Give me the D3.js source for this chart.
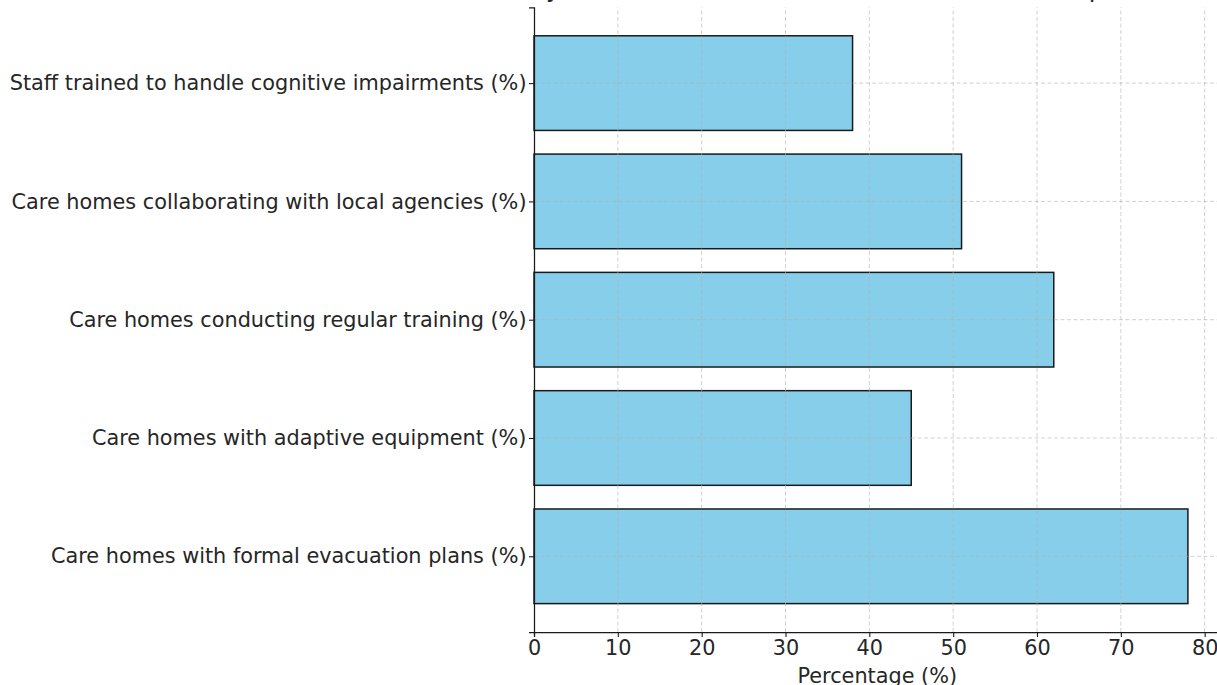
<!DOCTYPE html>
<html>
<head>
<meta charset="utf-8">
<script src="https://cdn.jsdelivr.net/npm/d3@7"></script>
<style>
  html, body { margin: 0; padding: 0; background: #fff; }
  svg { display: block; font-family: "DejaVu Sans", sans-serif; }
</style>
</head>
<body>
<svg id="chart" width="1217" height="685"></svg>
<script>
// Care-home preparedness indicators, listed bottom to top
const categories = [
  "Care homes with formal evacuation plans (%)",
  "Care homes with adaptive equipment (%)",
  "Care homes conducting regular training (%)",
  "Care homes collaborating with local agencies (%)",
  "Staff trained to handle cognitive impairments (%)"
];
const values = [78, 45, 62, 51, 38];
const xTicks = [0, 10, 20, 30, 40, 50, 60, 70, 80];
const chartTitle = "Safety Readiness of Care Homes for Elders: A Snapshot";
const xLabel = "Percentage (%)";

const svg = d3.select("#chart");
const margin = { left: 534, right: -3.6, top: 7.4, bottom: 53 };
const W = 1217, H = 685;

const xMax = d3.max(values) * 1.05;
const x = d3.scaleLinear().domain([0, xMax]).range([margin.left, W - margin.right]);
const y = d3.scaleLinear().domain([-0.64, categories.length - 1 + 0.64]).range([H - margin.bottom, margin.top]);

const textColor = "#262626";
const fontSize = 20.8;

// bars
svg.append("g").selectAll("rect")
  .data(values)
  .join("rect")
  .attr("x", x(0))
  .attr("y", (d, i) => y(i + 0.4))
  .attr("width", d => x(d) - x(0))
  .attr("height", (d, i) => y(i - 0.4) - y(i + 0.4))
  .attr("fill", "#87CEEB")
  .attr("stroke", "#1a1a1a")
  .attr("stroke-width", 1.5);

// dashed grid drawn above the bars
const grid = svg.append("g")
  .attr("stroke", "#b0b0b0")
  .attr("stroke-opacity", 0.65)
  .attr("stroke-width", 0.9)
  .attr("stroke-dasharray", "4,2.5");
grid.selectAll("line.v")
  .data(xTicks.filter(t => t > 0))
  .join("line")
  .attr("class", "v")
  .attr("x1", d => x(d)).attr("x2", d => x(d))
  .attr("y1", y.range()[0]).attr("y2", y.range()[1]);
grid.selectAll("line.h")
  .data(categories)
  .join("line")
  .attr("class", "h")
  .attr("x1", x(0)).attr("x2", x(xMax))
  .attr("y1", (d, i) => y(i)).attr("y2", (d, i) => y(i));

// x axis
const xAxis = svg.append("g")
  .attr("transform", `translate(0,${y.range()[0]})`)
  .call(d3.axisBottom(x).tickValues(xTicks).tickFormat(d3.format("d")).tickSize(5).tickPadding(3));
xAxis.select(".domain").attr("stroke", "#1a1a1a").attr("stroke-width", 1.25);
xAxis.selectAll(".tick line").attr("stroke", "#1a1a1a").attr("stroke-width", 1.1);
xAxis.selectAll("text").attr("font-size", fontSize).attr("fill", textColor)
  .attr("font-family", "DejaVu Sans");

// y axis
const yAxis = svg.append("g")
  .attr("transform", `translate(${x(0)},0)`)
  .call(d3.axisLeft(y).tickValues(d3.range(categories.length)).tickFormat(i => categories[i]).tickSize(5).tickPadding(2.5));
yAxis.select(".domain").attr("stroke", "#1a1a1a").attr("stroke-width", 1.25);
yAxis.selectAll(".tick line").attr("stroke", "#1a1a1a").attr("stroke-width", 1.1);
yAxis.selectAll("text").attr("font-size", fontSize).attr("fill", textColor)
  .attr("font-family", "DejaVu Sans");

// axis title
svg.append("text")
  .attr("x", (x(0) + x(xMax)) / 2)
  .attr("y", H - 2)
  .attr("text-anchor", "middle")
  .attr("font-size", fontSize)
  .attr("fill", textColor)
  .text(xLabel);

// chart title, sitting at the very top edge; its left end lines up just past the y axis
const title = svg.append("text")
  .attr("x", 0)
  .attr("y", -2.6)
  .attr("font-size", 24.3)
  .attr("fill", textColor)
  .text(chartTitle);
const yIdx = chartTitle.indexOf("y");
const yOffset = title.node().getStartPositionOfChar(yIdx).x;
title.attr("x", x(0) + 12 - yOffset);
</script>
</body>
</html>
